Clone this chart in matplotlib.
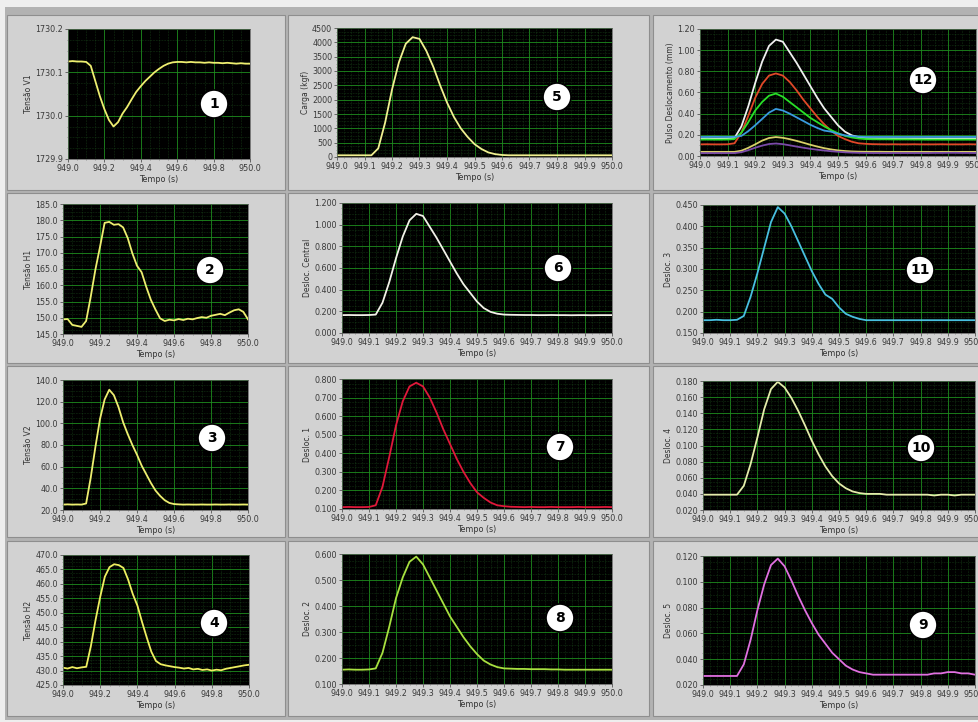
"""
Painel de aquisição (LabVIEW) - tensões, carga e deslocamentos ~ tempo
"""
import matplotlib
matplotlib.use("Agg")
from matplotlib import pyplot as plt
from matplotlib.patches import Rectangle, Ellipse
from matplotlib.ticker import MultipleLocator, AutoMinorLocator, FormatStrFormatter

W, H = 979, 722

# time base [s]
tempo = [949.000, 949.025, 949.050, 949.075, 949.100, 949.125, 949.150, 949.175,
         949.200, 949.225, 949.250, 949.275, 949.300, 949.325, 949.350, 949.375,
         949.400, 949.425, 949.450, 949.475, 949.500, 949.525, 949.550, 949.575,
         949.600, 949.625, 949.650, 949.675, 949.700, 949.725, 949.750, 949.775,
         949.800, 949.825, 949.850, 949.875, 949.900, 949.925, 949.950, 949.975,
         950.000]

tensao_v1 = [1730.125, 1730.126, 1730.125, 1730.125, 1730.124, 1730.115, 1730.080, 1730.045,
             1730.015, 1729.990, 1729.975, 1729.985, 1730.005, 1730.020, 1730.038, 1730.055,
             1730.068, 1730.080, 1730.090, 1730.100, 1730.108, 1730.115, 1730.120, 1730.123,
             1730.124, 1730.124, 1730.123, 1730.124, 1730.123, 1730.123, 1730.122, 1730.123,
             1730.122, 1730.122, 1730.121, 1730.122, 1730.121, 1730.120, 1730.121, 1730.120,
             1730.120]

tensao_h1 = [149.5, 149.6, 147.8, 147.5, 147.2, 149.0, 156.5, 164.8,
             171.8, 179.2, 179.5, 178.6, 178.8, 177.8, 174.5, 169.8,
             166.0, 164.0, 159.5, 155.5, 152.5, 149.8, 149.0, 149.4,
             149.2, 149.6, 149.3, 149.7, 149.5, 149.9, 150.2, 150.0,
             150.6, 150.9, 151.2, 150.8, 151.6, 152.3, 152.6, 151.8,
             149.5]

tensao_v2 = [25.0, 25.2, 25.0, 25.1, 25.0, 26.0, 50.0, 78.0,
             104.0, 122.0, 131.0, 126.0, 115.0, 101.0, 90.0, 80.0,
             71.0, 61.0, 53.0, 45.0, 38.0, 33.0, 29.0, 26.5,
             25.5, 25.2, 25.0, 25.1, 25.0, 25.0, 25.1, 25.0,
             25.0, 25.1, 25.0, 25.0, 25.1, 25.0, 25.0, 25.1,
             25.0]

tensao_h2 = [431.0, 430.7, 431.2, 430.8, 431.1, 431.3, 438.5, 447.5,
             455.5, 462.5, 465.8, 466.8, 466.5, 465.5, 461.5, 456.5,
             452.5, 446.8, 441.5, 436.5, 433.3, 432.2, 431.8, 431.5,
             431.2, 431.0, 430.7, 430.9, 430.4, 430.6, 430.2, 430.4,
             430.0, 430.3, 430.1, 430.6, 430.9, 431.2, 431.5, 431.8,
             432.0]

carga = [60, 60, 60, 60, 60, 60, 300, 1200,
         2350, 3300, 3950, 4180, 4120, 3700, 3150, 2500,
         1900, 1400, 1000, 700, 450, 280, 160, 100,
         70, 60, 60, 60, 60, 60, 60, 60,
         60, 60, 60, 60, 60, 60, 60, 60,
         60]

desloc_central = [0.165, 0.166, 0.165, 0.165, 0.166, 0.170, 0.280, 0.470,
                  0.690, 0.890, 1.040, 1.100, 1.080, 0.980, 0.880, 0.770,
                  0.660, 0.550, 0.450, 0.370, 0.290, 0.230, 0.195, 0.178,
                  0.170, 0.168, 0.167, 0.166, 0.166, 0.165, 0.165, 0.166,
                  0.165, 0.165, 0.164, 0.165, 0.165, 0.164, 0.165, 0.165,
                  0.165]

desloc_1 = [0.110, 0.111, 0.110, 0.110, 0.111, 0.120, 0.220, 0.380,
            0.550, 0.680, 0.760, 0.780, 0.760, 0.700, 0.620, 0.530,
            0.450, 0.370, 0.300, 0.240, 0.190, 0.160, 0.135, 0.120,
            0.115, 0.112, 0.111, 0.110, 0.111, 0.110, 0.110, 0.111,
            0.110, 0.110, 0.110, 0.111, 0.110, 0.110, 0.110, 0.111,
            0.110]

desloc_2 = [0.155, 0.156, 0.155, 0.155, 0.156, 0.160, 0.220, 0.320,
            0.430, 0.510, 0.570, 0.590, 0.560, 0.510, 0.460, 0.410,
            0.360, 0.320, 0.280, 0.245, 0.215, 0.190, 0.175, 0.165,
            0.160, 0.159, 0.158, 0.158, 0.157, 0.157, 0.157, 0.156,
            0.156, 0.155, 0.155, 0.155, 0.155, 0.155, 0.155, 0.155,
            0.155]

desloc_3 = [0.180, 0.180, 0.181, 0.180, 0.180, 0.181, 0.190, 0.235,
            0.290, 0.350, 0.410, 0.445, 0.430, 0.400, 0.365, 0.330,
            0.295, 0.265, 0.240, 0.230, 0.210, 0.195, 0.188, 0.183,
            0.180, 0.180, 0.180, 0.180, 0.180, 0.180, 0.180, 0.180,
            0.180, 0.180, 0.180, 0.180, 0.180, 0.180, 0.180, 0.180,
            0.180]

desloc_4 = [0.039, 0.039, 0.039, 0.039, 0.039, 0.039, 0.050, 0.077,
            0.110, 0.145, 0.170, 0.179, 0.172, 0.159, 0.143, 0.125,
            0.106, 0.089, 0.074, 0.062, 0.053, 0.047, 0.043, 0.041,
            0.040, 0.040, 0.040, 0.039, 0.039, 0.039, 0.039, 0.039,
            0.039, 0.039, 0.038, 0.039, 0.039, 0.038, 0.039, 0.039,
            0.039]

desloc_5 = [0.027, 0.027, 0.027, 0.027, 0.027, 0.027, 0.036, 0.055,
            0.078, 0.098, 0.113, 0.118, 0.112, 0.101, 0.089, 0.078,
            0.068, 0.059, 0.052, 0.045, 0.040, 0.035, 0.032, 0.030,
            0.029, 0.028, 0.028, 0.028, 0.028, 0.028, 0.028, 0.028,
            0.028, 0.028, 0.029, 0.029, 0.030, 0.030, 0.029, 0.029,
            0.028]


def px_rect(x0, y0, x1, y1):
    """pixel box (top-left origin) -> figure fraction [l, b, w, h]"""
    return [x0 / W, 1 - y1 / H, (x1 - x0) / W, (y1 - y0) / H]


fig = plt.figure(figsize=(W / 100, H / 100), dpi=100, facecolor="#eeeeee")

# LabVIEW front panel: gray frame + raised boxes (kept behind the axes)
fig.add_artist(Rectangle((5 / W, 1 - 720 / H), 974 / W, 713 / H, zorder=-3,
                         transform=fig.transFigure, facecolor="#b2b2b2", edgecolor="none"))
cols = [(7, 285), (288, 649), (653, 985)]
rows = [(15, 190), (193, 363), (366, 537), (541, 716)]
for cx0, cx1 in cols:
    for ry0, ry1 in rows:
        l, b, w, h = px_rect(cx0, ry0, cx1, ry1)
        fig.add_artist(Rectangle((l, b), w, h, transform=fig.transFigure, zorder=-2,
                                 facecolor="#d2d2d2", edgecolor="#8e8e8e", linewidth=0.8))

# (number, box, ylabel, ylim, ystep, yfmt, xstep, series, callout)
panels = [
    ("1", (68, 29, 250, 159), "Tensão V1", (1729.9, 1730.2), 0.1, "%.1f", 0.2,
     [(tensao_v1, "#eeee70")], (214, 104)),
    ("2", (63, 204, 248, 334), "Tensão H1", (145, 185), 5, "%.1f", 0.2,
     [(tensao_h1, "#eeee70")], (210, 270)),
    ("3", (63, 380, 248, 510), "Tensão V2", (20, 140), 20, "%.1f", 0.2,
     [(tensao_v2, "#eeee70")], (212, 438)),
    ("4", (63, 555, 249, 685), "Tensão H2", (425, 470), 5, "%.1f", 0.2,
     [(tensao_h2, "#eeee60")], (214, 623)),
    ("5", (337, 28, 612, 157), "Carga (kgf)", (0, 4500), 500, "%.0f", 0.1,
     [(carga, "#f0f090")], (557, 97)),
    ("6", (342, 203, 612, 333), "Desloc. Central", (0, 1.2), 0.2, "%.3f", 0.1,
     [(desloc_central, "#f2f2e8")], (558, 268)),
    ("7", (342, 379, 612, 509), "Desloc. 1", (0.1, 0.8), 0.1, "%.3f", 0.1,
     [(desloc_1, "#e0183a")], (560, 447)),
    ("8", (342, 554, 612, 684), "Desloc. 2", (0.1, 0.6), 0.1, "%.3f", 0.1,
     [(desloc_2, "#a8e040")], (560, 618)),
    ("9", (703, 556, 975, 685), "Desloc. 5", (0.02, 0.12), 0.02, "%.3f", 0.1,
     [(desloc_5, "#e070e0")], (923, 625)),
    ("10", (703, 381, 975, 510), "Desloc. 4", (0.02, 0.18), 0.02, "%.3f", 0.1,
     [(desloc_4, "#e4ecaa")], (921, 448)),
    ("11", (703, 205, 975, 333), "Desloc. 3", (0.15, 0.45), 0.05, "%.3f", 0.1,
     [(desloc_3, "#48c0e0")], (920, 270)),
    ("12", (700, 29, 976, 156), "Pulso Deslocamento (mm)", (0, 1.2), 0.2, "%.2f", 0.1,
     [(desloc_central, "#f0f0f0"), (desloc_1, "#e04828"), (desloc_2, "#28e028"),
      (desloc_3, "#3a9ae0"), (desloc_4, "#d8d068"), (desloc_5, "#7a4aa8")], (923, 80)),
]

for num, box, ylabel, ylim, ystep, yfmt, xstep, series, circ in panels:
    ax = fig.add_axes(px_rect(*box))
    ax.set_facecolor("black")
    for values, color in series:
        ax.plot(tempo, values, color=color, linewidth=1.3, solid_joinstyle="round")
    ax.set_xlim(949.0, 950.0)
    ax.set_ylim(*ylim)
    ax.xaxis.set_major_locator(MultipleLocator(xstep))
    ax.yaxis.set_major_locator(MultipleLocator(ystep))
    ax.xaxis.set_minor_locator(AutoMinorLocator(4))
    ax.yaxis.set_minor_locator(AutoMinorLocator(4))
    ax.xaxis.set_major_formatter(FormatStrFormatter("%.1f"))
    ax.yaxis.set_major_formatter(FormatStrFormatter(yfmt))
    ax.grid(which="major", color="#1e8e1e", linewidth=0.6)
    ax.grid(which="minor", color="#1a4a1a", linewidth=0.45, linestyle=(0, (1, 1.5)))
    ax.set_axisbelow(True)
    ax.tick_params(which="major", direction="out", length=2, width=0.5, pad=1.5,
                   labelsize=5.8, colors="#3a3a3a")
    ax.tick_params(which="minor", direction="out", length=1, width=0.4, colors="#666666")
    for sp in ax.spines.values():
        sp.set_color("#555555")
        sp.set_linewidth(0.5)
    ax.set_xlabel("Tempo (s)", fontsize=5.8, color="#333333", labelpad=1.5)
    ax.set_ylabel(ylabel, fontsize=5.5, color="#333333", labelpad=1.5)

    # numbered callout
    cx, cy = circ
    fig.add_artist(Ellipse((cx / W, 1 - cy / H), 28 / W, 28 / H, transform=fig.transFigure,
                           facecolor="white", edgecolor="black", linewidth=1.2, zorder=10))
    fig.text(cx / W, 1 - cy / H, num, ha="center", va="center", fontsize=10,
             fontweight="bold", color="black", zorder=11)

fig.savefig("out.png", dpi=100, facecolor=fig.get_facecolor())
